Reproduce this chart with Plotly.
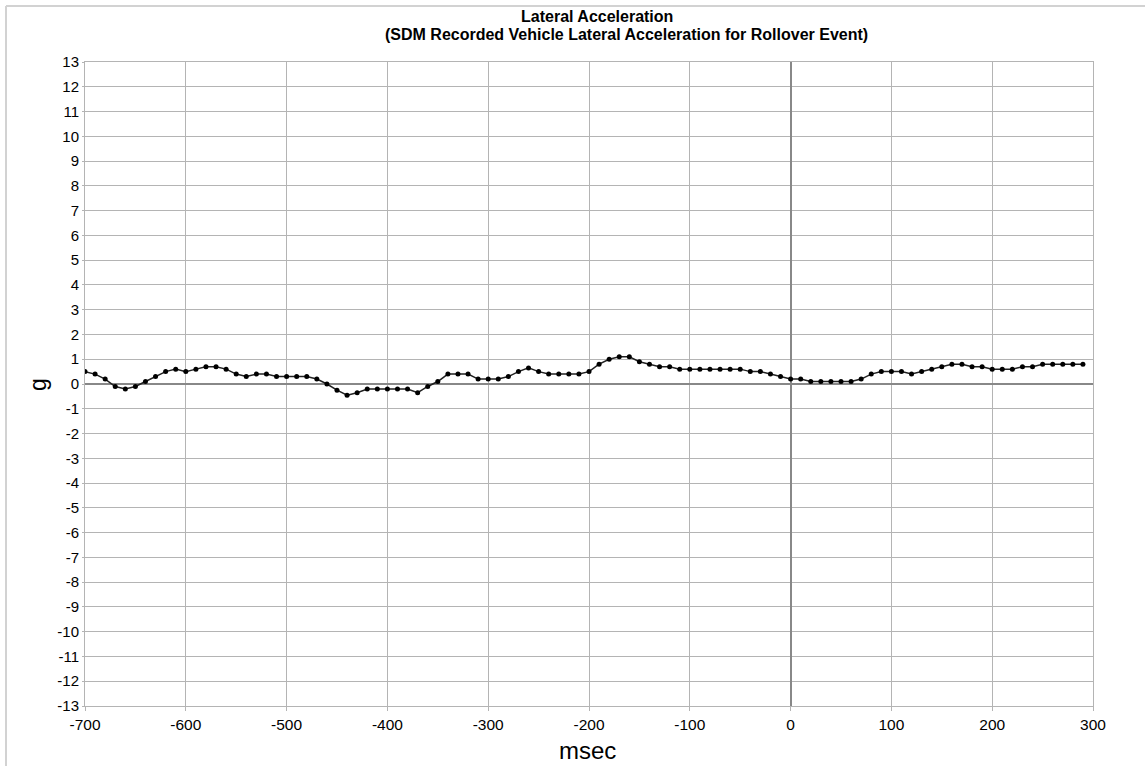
import plotly.graph_objects as go

# SDM lateral acceleration samples, 10 ms apart
time_ms = list(range(-700, 300, 10))
lateral_g = [
    0.5, 0.4, 0.2, -0.1, -0.2, -0.1, 0.1, 0.3, 0.5, 0.6,
    0.5, 0.6, 0.7, 0.7, 0.6, 0.4, 0.3, 0.4, 0.4, 0.3,
    0.3, 0.3, 0.3, 0.2, 0.0, -0.25, -0.45, -0.35, -0.2, -0.2,
    -0.2, -0.2, -0.2, -0.35, -0.1, 0.1, 0.4, 0.4, 0.4, 0.2,
    0.2, 0.2, 0.3, 0.5, 0.65, 0.5, 0.4, 0.4, 0.4, 0.4,
    0.5, 0.8, 1.0, 1.1, 1.1, 0.9, 0.8, 0.7, 0.7, 0.6,
    0.6, 0.6, 0.6, 0.6, 0.6, 0.6, 0.5, 0.5, 0.4, 0.3,
    0.2, 0.2, 0.1, 0.1, 0.1, 0.1, 0.1, 0.2, 0.4, 0.5,
    0.5, 0.5, 0.4, 0.5, 0.6, 0.7, 0.8, 0.8, 0.7, 0.7,
    0.6, 0.6, 0.6, 0.7, 0.7, 0.8, 0.8, 0.8, 0.8, 0.8,
]

x_ticks = list(range(-700, 301, 100))
y_ticks = list(range(-13, 14))

W, H = 1145, 766
ML, MR, MT, MB = 85, 52, 62, 60
PW, PH = W - ML - MR, H - MT - MB


def px_x(p):
    return (p - ML) / PW


def px_y(p):
    return (H - MB - p) / PH


FONT = "Liberation Sans, Arial, sans-serif"
GRID = "#b4b4b4"

fig = go.Figure()
fig.add_trace(go.Scatter(
    x=time_ms, y=lateral_g, mode="lines+markers",
    line=dict(color="#222222", width=1.5),
    marker=dict(color="#000000", size=5),
    showlegend=False,
))

fig.update_layout(
    width=W, height=H,
    margin=dict(l=ML, r=MR, t=MT, b=MB),
    paper_bgcolor="white", plot_bgcolor="white",
    font=dict(family=FONT, color="#000000"),
    xaxis=dict(
        range=[-700, 300], tickvals=x_ticks, ticktext=[str(v) for v in x_ticks],
        showgrid=True, gridcolor=GRID, gridwidth=1,
        zeroline=True, zerolinecolor="#888888", zerolinewidth=1.5,
        showline=True, mirror=True, linecolor=GRID, linewidth=1,
        ticks="outside", ticklen=4, tickcolor=GRID,
        tickfont=dict(size=15.5, family=FONT), fixedrange=True,
    ),
    yaxis=dict(
        range=[-13, 13], tickvals=y_ticks, ticktext=[str(v) for v in y_ticks],
        showgrid=True, gridcolor=GRID, gridwidth=1,
        zeroline=True, zerolinecolor="#888888", zerolinewidth=1.5,
        showline=True, mirror=True, linecolor=GRID, linewidth=1,
        ticks="outside", ticklen=2, tickcolor=GRID,
        tickfont=dict(size=15, family=FONT), fixedrange=True,
    ),
    annotations=[
        dict(text="<b>Lateral Acceleration</b>", x=px_x(597), y=px_y(16),
             xref="paper", yref="paper", showarrow=False,
             font=dict(size=16, family=FONT), xanchor="center", yanchor="middle"),
        dict(text="<b>(SDM Recorded Vehicle Lateral Acceleration for Rollover Event)</b>",
             x=px_x(626), y=px_y(34), xref="paper", yref="paper", showarrow=False,
             font=dict(size=16, family=FONT), xanchor="center", yanchor="middle"),
        dict(text="g", x=px_x(38), y=px_y(385), xref="paper", yref="paper",
             showarrow=False, textangle=-90, font=dict(size=23, family=FONT),
             xanchor="center", yanchor="middle"),
        dict(text="msec", x=px_x(587), y=px_y(766), xref="paper", yref="paper",
             showarrow=False, font=dict(size=24, family=FONT),
             xanchor="center", yanchor="bottom"),
    ],
    shapes=[
        dict(type="line", xref="paper", yref="paper",
             x0=px_x(6), x1=px_x(W + 5), y0=px_y(6), y1=px_y(6),
             line=dict(color="#d2d2d2", width=2)),
        dict(type="line", xref="paper", yref="paper",
             x0=px_x(6), x1=px_x(6), y0=px_y(6), y1=px_y(H + 5),
             line=dict(color="#d2d2d2", width=2)),
    ],
)

fig.write_html("out.html")
